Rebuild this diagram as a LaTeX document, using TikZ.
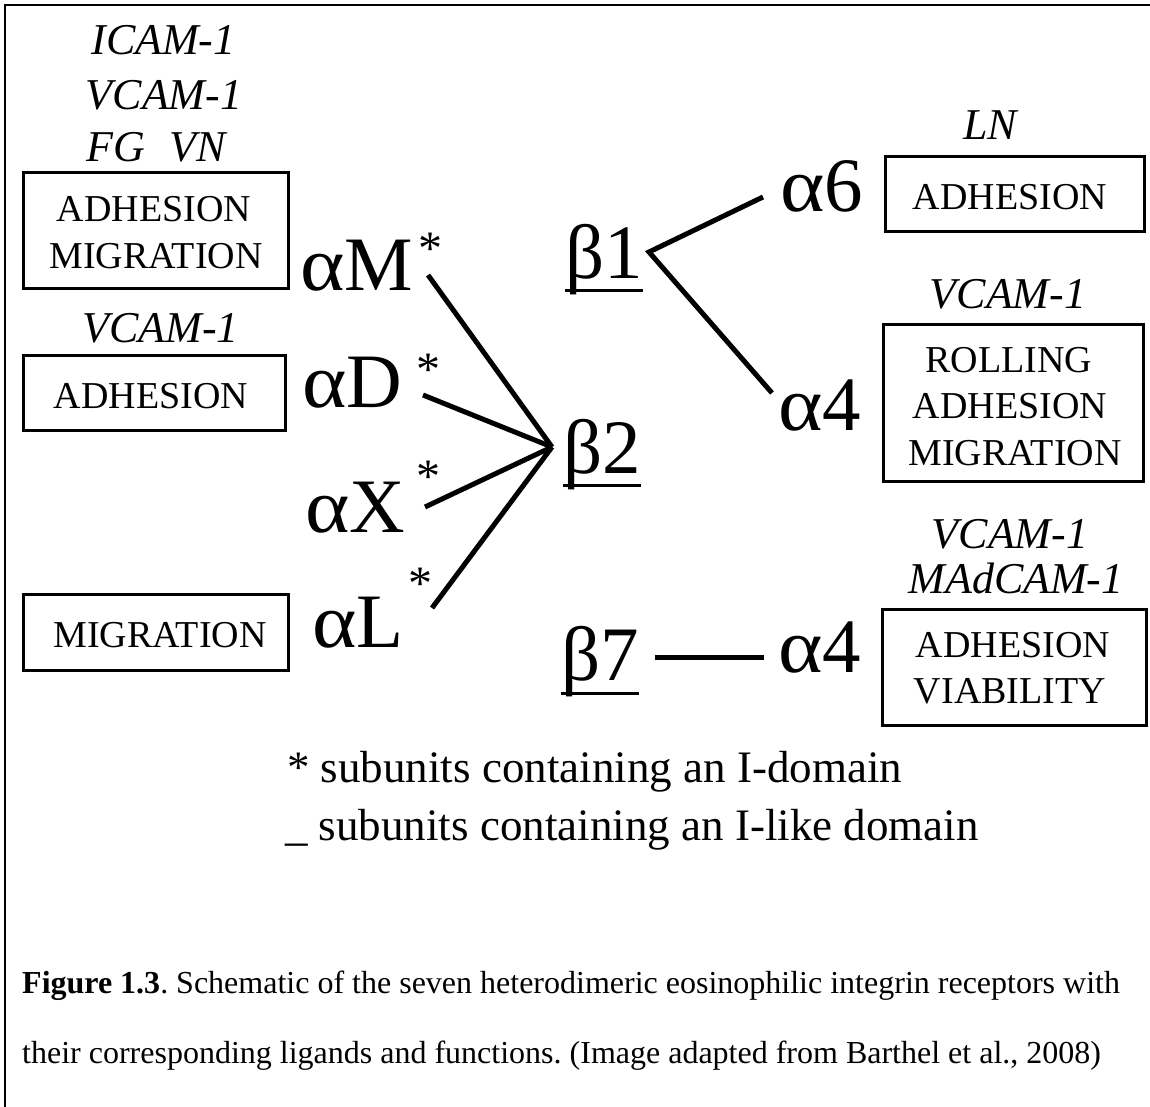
\documentclass[tikz,border=0pt]{standalone}
\usepackage{fontspec}
\setmainfont{Liberation Serif}
\frenchspacing
\newcommand{\galpha}{\scalebox{1.1}[1]{α}}
\tikzset{
  lig/.style={font=\fontsize{44}{50}\selectfont\itshape, inner sep=0pt, anchor=base},
  fnbox/.style={draw, line width=3.2pt, inner sep=0pt},
  fntxt/.style={font=\fontsize{38}{46}\selectfont, inner sep=0pt, anchor=base},
  subu/.style={font=\fontsize{77}{80}\selectfont, inner sep=0pt, anchor=base west},
  astx/.style={font=\fontsize{48}{50}\selectfont, inner sep=0pt, anchor=base},
  bond/.style={line width=5pt},
  uline/.style={line width=3pt},
  framel/.style={line width=2pt},
  legendt/.style={font=\fontsize{45}{50}\selectfont, inner sep=0pt, anchor=base west},
  capt/.style={font=\fontsize{32}{36}\selectfont, inner sep=0pt, anchor=base west},
}
\begin{document}
\begin{tikzpicture}[x=1pt,y=-1pt]
\useasboundingbox (0,0) rectangle (1150,1107);
\fill[white] (0,0) rectangle (1150,1107);
% frame
\coordinate (fbl) at (5,1107);
\coordinate (ftl) at (5,5);
\coordinate (ftr) at (1150,5);
\draw[framel] (fbl) -- (ftl) -- (ftr);

% left column: ligands and function boxes
\node[lig] (l1) at (163.5,55) {ICAM-1};
\node[lig] (l2) at (164,110) {VCAM-1};
\node[lig] (l3) at (156,162) {FG\hspace{0.55em}VN};
\node[fnbox, minimum width=264.8pt, minimum height=115.8pt] (box1) at (156,230.5) {};
\node[fntxt] (box1a) at (154,222) {ADHESION};
\node[fntxt] (box1b) at (156,268) {MIGRATION};

\node[lig] (l4) at (160.5,342) {VCAM-1};
\node[fnbox, minimum width=261.8pt, minimum height=74.8pt] (box2) at (154.5,393) {};
\node[fntxt] (box2a) at (151,408) {ADHESION};

\node[fnbox, minimum width=264.8pt, minimum height=75.8pt] (box3) at (156,632.5) {};
\node[fntxt] (box3a) at (160,647) {MIGRATION};

% alpha subunits (beta2 partners)
\node[subu] (aM) at (300,290) {\galpha M};
\node[astx] (aMs) at (430,265) {*};
\node[subu] (aD) at (302,407) {\galpha D};
\node[astx] (aDs) at (428,385) {*};
\node[subu] (aX) at (305,532) {\galpha X};
\node[astx] (aXs) at (428,492) {*};
\node[subu] (aL) at (312,647) {\galpha L};
\node[astx] (aLs) at (420,599) {*};

% beta subunits
\node[subu] (b1) at (565,278) {β1};
\node[subu] (b2) at (563,473) {β2};
\node[subu] (b7) at (561,680) {β7};
\draw[uline] ([yshift=-12pt]b1.base west) -- ([yshift=-12pt]b1.base east);
\draw[uline] ([yshift=-12pt]b2.base west) -- ([yshift=-12pt]b2.base east);
\draw[uline] ([yshift=-13pt]b7.base west) -- ([yshift=-13pt]b7.base east);

% beta2 fan
\coordinate (b2j) at (552,447);
\coordinate (aMe) at (428,275);
\coordinate (aDe) at (423,395);
\coordinate (aXe) at (425,507);
\coordinate (aLe) at (432,608);
\draw[bond] (aMe) -- (b2j);
\draw[bond] (aDe) -- (b2j);
\draw[bond] (aXe) -- (b2j);
\draw[bond] (aLe) -- (b2j);

% right column
\node[subu] (a6) at (780,212) {\galpha 6};
\node[subu] (a4a) at (778,430) {\galpha 4};
\node[subu] (a4b) at (778,672) {\galpha 4};

\coordinate (b1j) at (649,252);
\coordinate (a6e) at (763,197);
\coordinate (a4ae) at (772,393);
\draw[bond, line join=miter] (a6e) -- (b1j) -- (a4ae);

\coordinate (b7e) at (655,657);
\coordinate (a4be) at (764,657);
\draw[bond] (b7e) -- (a4be);

\node[lig] (r1) at (990,140) {LN};
\node[fnbox, minimum width=258.8pt, minimum height=74.8pt] (box4) at (1015,194) {};
\node[fntxt] (box4a) at (1010,210) {ADHESION};

\node[lig] (r2) at (1008,308) {VCAM-1};
\node[fnbox, minimum width=259.8pt, minimum height=156.8pt] (box5) at (1013.5,403) {};
\node[fntxt] (box5a) at (1009,372) {ROLLING};
\node[fntxt] (box5b) at (1010,418) {ADHESION};
\node[fntxt] (box5c) at (1015,465) {MIGRATION};

\node[lig] (r3) at (1010,548) {VCAM-1};
\node[lig] (r4) at (1016,593) {MAdCAM-1};
\node[fnbox, minimum width=263.8pt, minimum height=115.8pt] (box6) at (1014.5,667.5) {};
\node[fntxt] (box6a) at (1013,657) {ADHESION};
\node[fntxt] (box6b) at (1010,703) {VIABILITY};

% legend
\node[legendt] (leg1) at (287,782) {* subunits containing an I-domain};
\node[legendt] (leg2) at (285,840) {\_ subunits containing an I-like domain};

% caption
\node[capt] (cap1) at (22,993) {\textbf{Figure 1.3}. Schematic of the seven heterodimeric eosinophilic integrin receptors with};
\node[capt] (cap2) at (22,1063) {their corresponding ligands and functions. (Image adapted from Barthel et al., 2008)};
\end{tikzpicture}
\end{document}
